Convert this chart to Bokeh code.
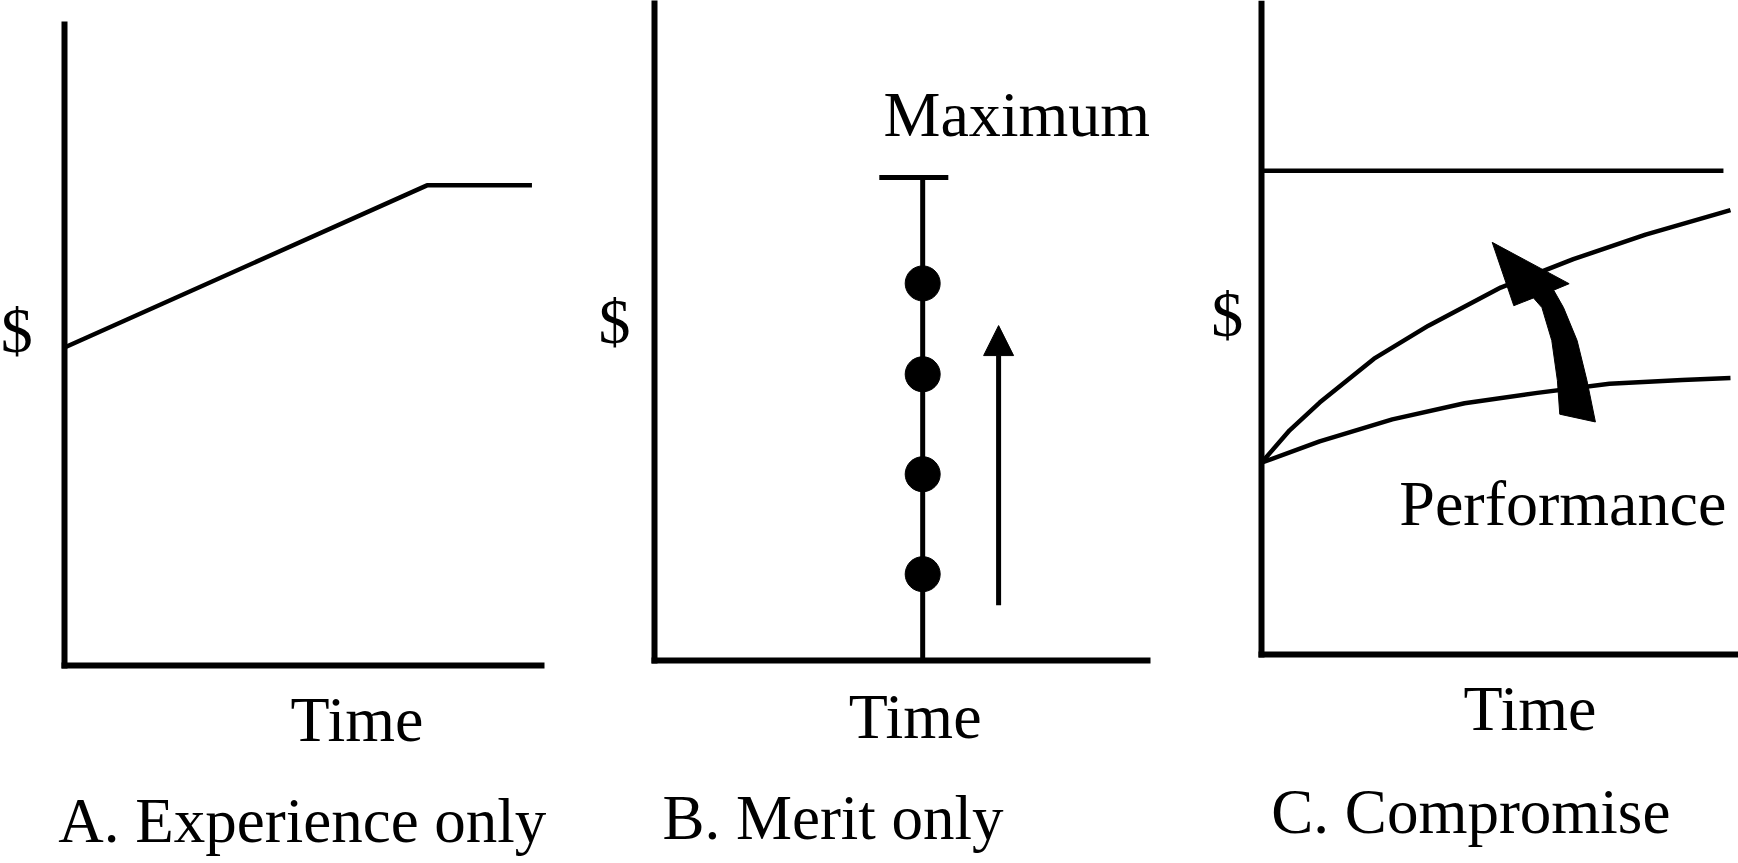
from bokeh.plotting import figure
from bokeh.layouts import row
from bokeh.models import Arrow, NormalHead, Range1d
from bokeh.embed import file_html
from bokeh.resources import INLINE
from bokeh.core.properties import value

FONT = "Liberation Serif"

# ---- data ----
panel_captions = ["A. Experience only", "B. Merit only", "C. Compromise"]
x_label = "Time"
y_label = "$"

# Panel A: pay rises with experience, then plateaus
exp_time = [0.0, 7.6, 9.8]
exp_pay = [4.96, 7.49, 7.49]

# Panel B: merit steps up to a maximum
merit_time = 5.44
merit_steps = [1.33, 2.87, 4.41, 5.81]
merit_max = 7.44
merit_cap = [4.56, 5.96]
merit_arrow_x = 6.98
merit_arrow_y = [0.85, 5.16]
merit_label = "Maximum"

# Panel C: compromise
comp_max = 7.49
comp_max_end = 9.85
comp_time_upper = [0.0, 0.6, 1.24, 2.40, 3.56, 5.10, 6.65, 8.19, 10.0]
comp_pay_upper = [2.97, 3.47, 3.90, 4.58, 5.09, 5.68, 6.12, 6.50, 6.88]
comp_time_lower = [0.0, 1.24, 2.79, 4.33, 5.88, 7.42, 8.97, 10.0]
comp_pay_lower = [2.97, 3.30, 3.64, 3.89, 4.05, 4.19, 4.25, 4.28]
shift_arrow_x = [4.92, 5.38, 5.80, 5.98, 6.19, 6.31, 6.36, 7.12, 6.94, 6.73, 6.44, 6.23, 6.56]
shift_arrow_y = [6.38, 5.40, 5.52, 5.37, 4.86, 4.24, 3.72, 3.60, 4.24, 4.86, 5.37, 5.64, 5.74]
comp_label = "Performance"

H = 863
FS = "64px"


def txt(p, x, y, s, align="left", size=FS):
    p.text(x=[x], y=[y], text=[s], text_font=value(FONT), text_font_size=size,
           text_baseline="alphabetic", text_align=align, text_color="black")


def make_panel(width, xr, yr, xb, yb, dollar, time_pos, cap_pos, caption):
    p = figure(width=width, height=H, x_range=Range1d(*xr), y_range=Range1d(*yr),
               output_backend="svg", toolbar_location=None, min_border=0)
    p.grid.visible = False
    p.outline_line_color = None
    p.xaxis.ticker = []
    p.yaxis.ticker = []
    p.xaxis.fixed_location = 0
    p.yaxis.fixed_location = 0
    p.xaxis.bounds = (0, xb)
    p.yaxis.bounds = (0, yb)
    for ax in p.axis:
        ax.axis_line_width = 6
        ax.axis_line_color = "black"
        ax.axis_line_cap = "square"
        ax.major_tick_out = 0
        ax.major_tick_in = 0
        ax.minor_tick_out = 0
        ax.minor_tick_in = 0
        ax.major_label_text_font_size = "0px"
        ax.major_label_standoff = 0
    txt(p, dollar[0], dollar[1], y_label, "center")
    txt(p, time_pos[0], time_pos[1], x_label)
    txt(p, cap_pos[0], cap_pos[1], caption, size="63px")
    return p


# Panel A
pa = make_panel(580, (-1.342, 10.818), (-3.089, 10.374), 10.0, 10.0,
                (-1.0, 5.22), (4.74, -0.84), (-0.13, -2.43), panel_captions[0])
pa.line(exp_time, exp_pay, line_width=4.5, line_color="black")

# Panel B
pb = make_panel(615, (-1.501, 10.974), (-3.128, 10.169), 10.0, 10.17,
                (-0.81, 5.22), (3.94, -0.86), (0.16, -2.43), panel_captions[1])
pb.segment(x0=[merit_time], y0=[0], x1=[merit_time], y1=[merit_max], line_width=5, line_color="black")
pb.segment(x0=[merit_cap[0]], y0=[merit_max], x1=[merit_cap[1]], y1=[merit_max], line_width=5, line_color="black")
pb.scatter(x=[merit_time] * len(merit_steps), y=merit_steps, size=35, color="black")
pb.add_layout(Arrow(x_start=merit_arrow_x, y_start=merit_arrow_y[0], x_end=merit_arrow_x, y_end=merit_arrow_y[1],
                    line_width=5, line_color="black",
                    end=NormalHead(size=30, fill_color="black", line_color="black")))
txt(pb, 4.645, 8.415, merit_label)

# Panel C
pc = make_panel(543, (-1.407, 10.171), (-3.235, 10.124), 10.171, 10.08,
                (-0.73, 5.26), (4.31, -0.83), (0.21, -2.44), panel_captions[2])
pc.segment(x0=[0], y0=[comp_max], x1=[comp_max_end], y1=[comp_max], line_width=4.5, line_color="black")
pc.line(comp_time_upper, comp_pay_upper, line_width=4.5, line_color="black", line_join="round")
pc.line(comp_time_lower, comp_pay_lower, line_width=4.5, line_color="black", line_join="round")
pc.patch(shift_arrow_x, shift_arrow_y, color="black")
txt(pc, 2.94, 2.34, comp_label)

layout = row(pa, pb, pc, spacing=0)
open("out.html", "w").write(file_html(layout, INLINE))
